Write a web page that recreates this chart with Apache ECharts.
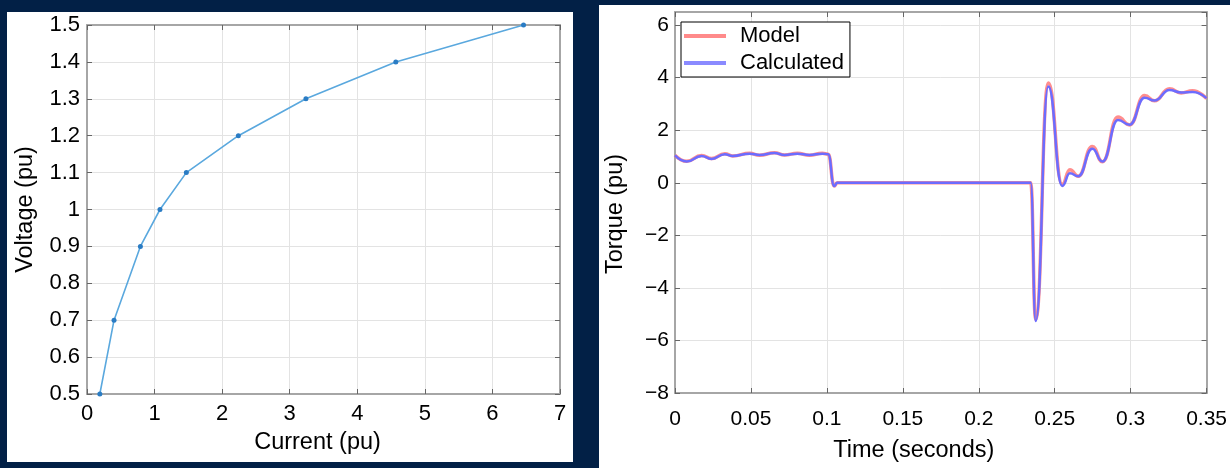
<!DOCTYPE html>
<html>
<head>
<meta charset="utf-8">
<script src="https://cdn.jsdelivr.net/npm/echarts@6/dist/echarts.min.js"></script>
<style>
html,body{margin:0;padding:0;background:#022046;}
#c{width:1230px;height:468px;}
</style>
</head>
<body>
<div id="c"></div>
<script>
// Left chart: magnetization curve
const currentPu = [0.19, 0.40, 0.79, 1.08, 1.47, 2.24, 3.24, 4.57, 6.46];
const voltagePu = [0.5, 0.7, 0.9, 1.0, 1.1, 1.2, 1.3, 1.4, 1.5];

// Right chart: torque vs time
const timeSec = [0, 0.0077, 0.0175, 0.0241, 0.0328, 0.038, 0.0492, 0.0557, 0.0655, 0.0721, 0.0806, 0.0885, 0.097, 0.1009, 0.1048, 0.1068, 0.2342, 0.2375, 0.2458, 0.255, 0.26, 0.2655, 0.2748, 0.2814, 0.2917, 0.2993, 0.3092, 0.3157, 0.3256, 0.3332, 0.3408, 0.35];
const torqueCalculated = [1.04, 0.81, 1.02, 0.91, 1.09, 1.02, 1.11, 1.06, 1.13, 1.06, 1.11, 1.06, 1.11, 1.09, -0.12, 0, 0, -5.26, 3.66, -0.12, 0.36, 0.25, 1.30, 0.81, 2.39, 2.21, 3.24, 3.13, 3.53, 3.44, 3.46, 3.22];
const torqueModel = [1.05, 0.82, 1.04, 0.92, 1.11, 1.02, 1.12, 1.05, 1.14, 1.06, 1.12, 1.05, 1.12, 1.09, -0.12, 0, 0, -5.2, 3.8, -0.06, 0.5, 0.25, 1.38, 0.8, 2.5, 2.2, 3.32, 3.12, 3.58, 3.42, 3.5, 3.2];

const seriesNames = ['Model', 'Calculated'];

const FONT = "'Liberation Sans', Arial, sans-serif";
const minus = v => String(v).replace('-', '\u2212');

function zip(xs, ys) { return xs.map((x, i) => [x, ys[i]]); }

const axisLineStyle = { show: true, onZero: false, lineStyle: { color: '#a6a6a6', width: 2 } };
const tickStyle = { show: true, inside: true, length: 5, lineStyle: { color: '#666', width: 1 } };
const splitStyle = { show: true, lineStyle: { color: '#e3e3e3', width: 1 } };

const chart = echarts.init(document.getElementById('c'), null, { renderer: 'canvas' });

chart.setOption({
  backgroundColor: '#022046',
  animation: false,
  textStyle: { fontFamily: FONT },
  graphic: [
    { type: 'rect', z: -10, shape: { x: 7, y: 12, width: 566, height: 450 }, style: { fill: '#ffffff' } },
    { type: 'rect', z: -10, shape: { x: 599, y: 5, width: 631, height: 463 }, style: { fill: '#ffffff' } }
  ],
  legend: {
    data: seriesNames,
    orient: 'vertical',
    left: 681,
    top: 22,
    backgroundColor: '#ffffff',
    borderColor: '#000000',
    borderWidth: 1,
    borderRadius: 0,
    padding: [3, 6, 3, 3],
    icon: 'rect',
    itemWidth: 42,
    itemHeight: 4,
    itemGap: 5,
    textStyle: { fontSize: 22, color: '#000', fontFamily: FONT, padding: [0, 0, 0, 9] }
  },
  grid: [
    { left: 87, top: 25, right: 670, bottom: 74, show: false },
    { left: 675, top: 12, right: 21, bottom: 70, show: false }
  ],
  xAxis: [
    {
      gridIndex: 0, type: 'value', min: 0, max: 7, interval: 1,
      name: 'Current (pu)', nameLocation: 'middle', nameGap: 37,
      nameTextStyle: { fontSize: 23.5, color: '#000', fontFamily: FONT, padding: [0, 12, 0, 0] },
      axisLine: axisLineStyle, axisTick: tickStyle, splitLine: splitStyle,
      axisLabel: { fontSize: 22, color: '#000', margin: 9, fontFamily: FONT }
    },
    {
      gridIndex: 0, type: 'value', min: 0, max: 7, interval: 1, position: 'top',
      axisLine: axisLineStyle, axisTick: tickStyle, splitLine: { show: false },
      axisLabel: { show: false }
    },
    {
      gridIndex: 1, type: 'value', min: 0, max: 0.35, interval: 0.05,
      name: 'Time (seconds)', nameLocation: 'middle', nameGap: 46,
      nameTextStyle: { fontSize: 23.5, color: '#000', fontFamily: FONT, padding: [0, 54, 0, 0] },
      axisLine: axisLineStyle, axisTick: tickStyle, splitLine: splitStyle,
      axisLabel: { fontSize: 21, color: '#000', margin: 16, fontFamily: FONT, showMaxLabel: true }
    },
    {
      gridIndex: 1, type: 'value', min: 0, max: 0.35, interval: 0.05, position: 'top',
      axisLine: axisLineStyle, axisTick: tickStyle, splitLine: { show: false },
      axisLabel: { show: false }
    }
  ],
  yAxis: [
    {
      gridIndex: 0, type: 'value', min: 0.5, max: 1.5, interval: 0.1,
      name: 'Voltage (pu)', nameLocation: 'middle', nameGap: 49,
      nameTextStyle: { fontSize: 23.5, color: '#000', fontFamily: FONT },
      axisLine: axisLineStyle, axisTick: tickStyle, splitLine: splitStyle,
      axisLabel: { fontSize: 22, color: '#000', margin: 7, fontFamily: FONT }
    },
    {
      gridIndex: 0, type: 'value', min: 0.5, max: 1.5, interval: 0.1, position: 'right',
      axisLine: axisLineStyle, axisTick: tickStyle, splitLine: { show: false },
      axisLabel: { show: false }
    },
    {
      gridIndex: 1, type: 'value', min: -8, max: 6.5, interval: 2,
      name: 'Torque (pu)', nameLocation: 'middle', nameGap: 47,
      nameTextStyle: { fontSize: 23.5, color: '#000', fontFamily: FONT, padding: [0, 23, 0, 0] },
      axisLine: axisLineStyle, axisTick: tickStyle, splitLine: splitStyle,
      axisLabel: { fontSize: 21, color: '#000', margin: 6, fontFamily: FONT, showMaxLabel: false, formatter: minus }
    },
    {
      gridIndex: 1, type: 'value', min: -8, max: 6.5, interval: 2, position: 'right',
      axisLine: axisLineStyle, axisTick: tickStyle, splitLine: { show: false },
      axisLabel: { show: false }
    }
  ],
  series: [
    {
      name: 'Magnetization', type: 'line', xAxisIndex: 0, yAxisIndex: 0,
      data: zip(currentPu, voltagePu),
      symbol: 'circle', symbolSize: 5,
      itemStyle: { color: '#2a7cc4' },
      lineStyle: { color: '#5aa8de', width: 1.6 }
    },
    {
      name: seriesNames[0], type: 'line', xAxisIndex: 2, yAxisIndex: 2,
      data: zip(timeSec, torqueModel),
      symbol: 'none', smooth: 0.5, smoothMonotone: 'x',
      itemStyle: { color: '#ff8a8a' },
      lineStyle: { color: '#ff7a7a', width: 3.5, opacity: 0.85 }
    },
    {
      name: seriesNames[1], type: 'line', xAxisIndex: 2, yAxisIndex: 2,
      data: zip(timeSec, torqueCalculated),
      symbol: 'none', smooth: 0.5, smoothMonotone: 'x',
      itemStyle: { color: '#8a8aff' },
      lineStyle: { color: '#6c6cff', width: 2.5 }
    }
  ]
});
</script>
</body>
</html>
